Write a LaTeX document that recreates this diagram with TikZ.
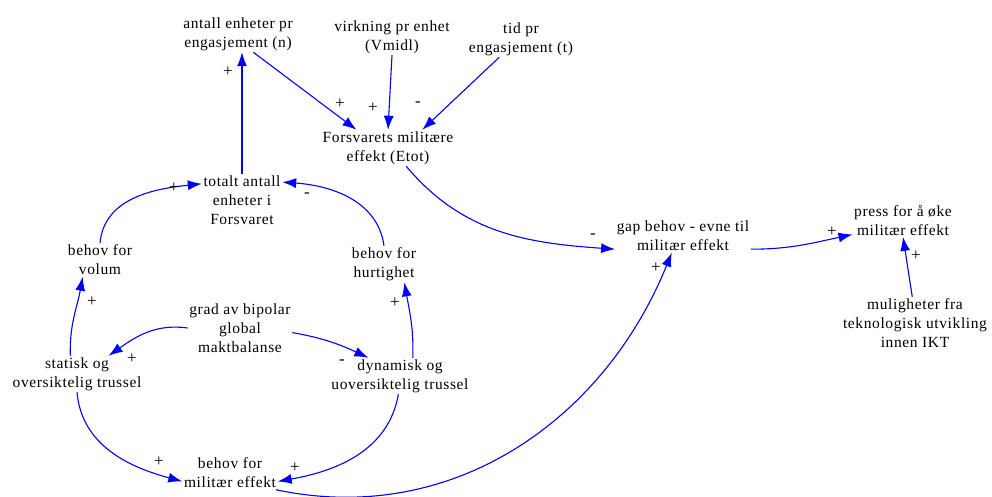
\documentclass[tikz,border=0pt]{standalone}
\usepackage{fontspec}
\setmainfont{Liberation Serif}[LetterSpace=4]
\usetikzlibrary{arrows.meta}
\definecolor{linkblue}{RGB}{0,0,255}
\tikzset{
  var/.style={align=center, inner sep=1.5pt, font=\fontsize{15.5}{19}\selectfont},
  link/.style={draw=linkblue, line width=1.1pt, -{Latex[length=14pt,width=10pt]}},
  pol/.style={inner sep=0pt, font=\fontsize{17}{18}\selectfont}
}
\begin{document}
\begin{tikzpicture}[x=1pt,y=-1pt]
\useasboundingbox (0,0) rectangle (992,497);

% variables
\node[var] (ant) at (238,34) {antall enheter pr\\engasjement (n)};
\node[var] (virk) at (392,37) {virkning pr enhet\\(Vmidl)};
\node[var] (tid) at (521,39) {tid pr\\engasjement (t)};
\node[var] (frs) at (388,148) {Forsvarets militære\\effekt (Etot)};
\node[var] (tot) at (242,200) {totalt antall\\enheter i\\Forsvaret};
\node[var] (vol) at (100,260) {behov for\\volum};
\node[var] (hur) at (384,264) {behov for\\hurtighet};
\node[var] (grad) at (240,328) {grad av bipolar\\global\\maktbalanse};
\node[var] (stat) at (77,374) {statisk og\\oversiktelig trussel};
\node[var] (dyn) at (400,376) {dynamisk og\\uoversiktelig trussel};
\node[var] (beh) at (230,473) {behov for\\militær effekt};
\node[var] (gap) at (683,236) {gap behov - evne til\\militær effekt};
\node[var] (press) at (903,220) {press for å øke\\militær effekt};
\node[var] (mul) at (915,323) {muligheter fra\\teknologisk utvikling\\innen IKT};

% causal links
\draw[link] (tot.north) -- (tot.north |- ant.south);
\draw[link] (ant.-50) -- (frs.150);
\draw[link] (virk.south) -- (frs.north);
\draw[link] (tid.-140) -- (frs.28);
\draw[link] (frs.-45) to[out=-50,in=176] (gap.191);
\draw[link] (gap.-11) to[out=0,in=192] (press.196);
\draw[link] (mul.96) -- (press.south);
\draw[link] (vol.north) to[out=85,in=186] (tot.158);
\draw[link] (hur.north) to[out=98,in=-4] (tot.24);
\draw[link] (stat.110) to[out=92,in=-100] (vol.224);
\draw[link] (dyn.55) to[out=88,in=-80] (hur.-42);
\draw[link] (grad.west) to[out=172,in=35] (stat.30);
\draw[link] (grad.-5) to[out=-10,in=155] (dyn.150);
\draw[link] (stat.south) to[out=-85,in=165] (beh.190);
\draw[link] (dyn.-95) to[out=-100,in=10] (beh.-10);
\draw[link] (beh.-20) to[out=-12,in=-112] (gap.-124);

% link polarities
\node[pol] (p1) at (228,72) {+};
\node[pol] (p2) at (340,104) {+};
\node[pol] (p3) at (373,108) {+};
\node[pol] (p4) at (418,104) {-};
\node[pol] (p5) at (593,236) {-};
\node[pol] (p6) at (832,232) {+};
\node[pol] (p7) at (916,256) {+};
\node[pol] (p8) at (656,268) {+};
\node[pol] (p9) at (174,188) {+};
\node[pol] (p10) at (307,195) {-};
\node[pol] (p11) at (92,302) {+};
\node[pol] (p12) at (395,303) {+};
\node[pol] (p13) at (132,359) {+};
\node[pol] (p14) at (342,362) {-};
\node[pol] (p15) at (159,462) {+};
\node[pol] (p16) at (295,468) {+};
\end{tikzpicture}
\end{document}
